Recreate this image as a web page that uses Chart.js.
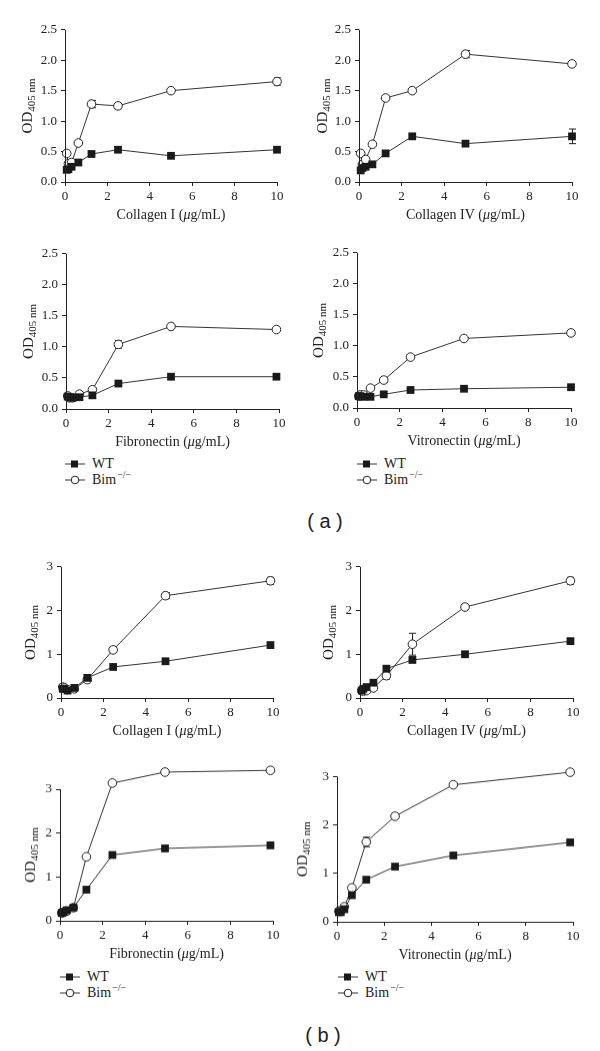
<!DOCTYPE html>
<html>
<head>
<meta charset="utf-8">
<title>Cell adhesion OD405</title>
<script src="https://cdn.jsdelivr.net/npm/chart.js@4.4.0/dist/chart.umd.min.js"></script>
<style>
  body { margin: 0; background: #fff; }
  #page { position: relative; width: 600px; height: 1051px; overflow: hidden; font-family: "Liberation Serif", serif; color: #222; }
  canvas { position: absolute; }
  .legend { position: absolute; font-family: "Liberation Serif", serif; font-size: 14px; }
  .legend .row { display: flex; align-items: center; height: 16px; }
  .legend svg { margin-right: 7px; }
  .legend sup { font-family: "Liberation Serif", serif; font-size: 10px; position: relative; top: -6px; vertical-align: baseline; line-height: 0; margin-left: 1px; }
  .tag { position: absolute; font-family: "Liberation Sans", sans-serif; font-size: 20px; white-space: pre; transform: translate(-50%, -50%); }
</style>
</head>
<body>
<div id="page">
  <div class="legend" style="left:65px; top:456px;"></div>
  <div class="legend" style="left:357px; top:456px;"></div>
  <div class="tag" style="left:325px; top:521px;">( a )</div>
  <div class="legend" style="left:60px; top:969px;"></div>
  <div class="legend" style="left:338px; top:969px;"></div>
  <div class="tag" style="left:323px; top:1035px;">( b )</div>
</div>
<script>
// coating concentrations (ug/mL)
const conc = [0.08, 0.16, 0.31, 0.63, 1.25, 2.5, 5, 10];
const concB = [0.08, 0.16, 0.31, 0.63, 1.24, 2.46, 4.93, 9.88];
const xTicks = [0, 2, 4, 6, 8, 10];
const yTicksA = [0, 0.5, 1, 1.5, 2, 2.5];
const yTicksB = [0, 1, 2, 3];
const seriesNames = ["WT", "Bim-/-"];

// (a)
const a1Wt  = [0.20, 0.21, 0.25, 0.32, 0.46, 0.53, 0.43, 0.53];
const a1Bim = [0.47, 0.30, 0.32, 0.64, 1.28, 1.25, 1.50, 1.65];
const a1BimErr = [0, 0, 0, 0, 0.06, 0, 0, 0.06];
const a2Wt  = [0.19, 0.23, 0.25, 0.29, 0.47, 0.75, 0.63, 0.75];
const a2WtErr = [0, 0, 0, 0, 0, 0, 0, 0.12];
const a2Bim = [0.47, 0.29, 0.37, 0.62, 1.38, 1.50, 2.10, 1.94];
const a2BimErr = [0, 0, 0, 0, 0, 0, 0.06, 0];
const a3Wt  = [0.20, 0.19, 0.18, 0.19, 0.22, 0.41, 0.52, 0.52];
const a3Bim = [0.21, 0.18, 0.18, 0.24, 0.31, 1.04, 1.33, 1.28];
const a3BimErr = [0, 0, 0, 0, 0, 0.06, 0, 0];
const a4Wt  = [0.19, 0.19, 0.18, 0.18, 0.22, 0.29, 0.31, 0.335];
const a4Bim = [0.19, 0.21, 0.21, 0.32, 0.45, 0.82, 1.12, 1.21];
const a4BimErr = [0, 0, 0, 0, 0.04, 0, 0, 0];

// (b)
const b1Wt  = [0.21, 0.21, 0.17, 0.23, 0.46, 0.71, 0.84, 1.21];
const b1Bim = [0.25, 0.23, 0.19, 0.21, 0.42, 1.10, 2.34, 2.68];
const b1BimErr = [0, 0, 0, 0, 0, 0, 0.07, 0.08];
const b2Wt  = [0.17, 0.21, 0.25, 0.35, 0.67, 0.87, 1.00, 1.30];
const b2Bim = [0.17, 0.16, 0.17, 0.23, 0.51, 1.23, 2.08, 2.68];
const b2BimErr = [0, 0, 0, 0, 0.08, 0.25, 0, 0.08];
const b3Wt  = [0.18, 0.20, 0.24, 0.30, 0.71, 1.50, 1.65, 1.72];
const b3Bim = [0.18, 0.19, 0.22, 0.30, 1.46, 3.14, 3.39, 3.43];
const b4Wt  = [0.20, 0.20, 0.26, 0.55, 0.87, 1.14, 1.37, 1.64];
const b4Bim = [0.22, 0.22, 0.31, 0.70, 1.65, 2.18, 2.83, 3.09];
const b4BimErr = [0, 0, 0, 0, 0.1, 0, 0, 0];

const none = [0, 0, 0, 0, 0, 0, 0, 0];

const panels = [
  { name: "Collagen I",  x: conc,  wt: a1Wt, bim: a1Bim, wtErr: none,    bimErr: a1BimErr, yTicks: yTicksA, dec: 1 },
  { name: "Collagen IV", x: conc,  wt: a2Wt, bim: a2Bim, wtErr: a2WtErr, bimErr: a2BimErr, yTicks: yTicksA, dec: 1 },
  { name: "Fibronectin", x: concB, wt: a3Wt, bim: a3Bim, wtErr: none,    bimErr: a3BimErr, yTicks: yTicksA, dec: 1 },
  { name: "Vitronectin", x: conc,  wt: a4Wt, bim: a4Bim, wtErr: none,    bimErr: a4BimErr, yTicks: yTicksA, dec: 1 },
  { name: "Collagen I",  x: concB, wt: b1Wt, bim: b1Bim, wtErr: none,    bimErr: b1BimErr, yTicks: yTicksB, dec: 0 },
  { name: "Collagen IV", x: concB, wt: b2Wt, bim: b2Bim, wtErr: none,    bimErr: b2BimErr, yTicks: yTicksB, dec: 0 },
  { name: "Fibronectin", x: concB, wt: b3Wt, bim: b3Bim, wtErr: none,    bimErr: none,     yTicks: yTicksB, dec: 0 },
  { name: "Vitronectin", x: concB, wt: b4Wt, bim: b4Bim, wtErr: none,    bimErr: b4BimErr, yTicks: yTicksB, dec: 0 }
];

// where each plot area sits on the page
const boxes = [
  { left: 65,  right: 277, zeroY: 182, topY: 28,  maxVal: 2.5, yOff: 33 },
  { left: 359, right: 572, zeroY: 182, topY: 28,  maxVal: 2.5, yOff: 32 },
  { left: 66,  right: 279, zeroY: 409, topY: 252, maxVal: 2.5, yOff: 33 },
  { left: 357, right: 571, zeroY: 408, topY: 251, maxVal: 2.5, yOff: 34 },
  { left: 61,  right: 273, zeroY: 698, topY: 565, maxVal: 3,   yOff: 26 },
  { left: 360, right: 573, zeroY: 698, topY: 565, maxVal: 3,   yOff: 27 },
  { left: 60,  right: 273, zeroY: 921, topY: 788, maxVal: 3.6, yOff: 25 },
  { left: 337, right: 573, zeroY: 922, topY: 775, maxVal: 3.2, yOff: 30 }
];

const ink = "#222";
const padL = 62, padT = 10, padR = 12, padB = 45;

Chart.defaults.font.family = '"Liberation Serif", serif';
Chart.defaults.font.size = 13;
Chart.defaults.color = ink;

// error bars, drawn under the markers
const errBars = {
  id: "errBars",
  beforeDatasetsDraw(chart, args, opts) {
    const ctx = chart.ctx;
    const ys = chart.scales.y;
    ctx.save();
    ctx.strokeStyle = ink;
    ctx.lineWidth = 1;
    chart.data.datasets.forEach((ds, i) => {
      const errs = opts.errs[i];
      const meta = chart.getDatasetMeta(i);
      ds.data.forEach((pt, j) => {
        if (!errs[j]) return;
        const x = Math.round(meta.data[j].x) + 0.5;
        const y1 = ys.getPixelForValue(pt.y + errs[j]);
        const y2 = ys.getPixelForValue(pt.y - errs[j]);
        ctx.beginPath();
        ctx.moveTo(x, y1); ctx.lineTo(x, y2);
        ctx.moveTo(x - 3.5, y1); ctx.lineTo(x + 3.5, y1);
        ctx.moveTo(x - 3.5, y2); ctx.lineTo(x + 3.5, y2);
        ctx.stroke();
      });
    });
    ctx.restore();
  }
};

// y axis line up to top tick, axis titles
const panelText = {
  id: "panelText",
  afterDraw(chart, args, opts) {
    const ctx = chart.ctx;
    const area = chart.chartArea;
    const ys = chart.scales.y;
    const y0 = ys.getPixelForValue(0);
    const yTop = ys.getPixelForValue(opts.topVal);
    ctx.save();
    ctx.strokeStyle = ink;
    ctx.fillStyle = ink;
    ctx.lineWidth = 1;
    ctx.beginPath();
    ctx.moveTo(Math.round(area.left) + 0.5, y0);
    ctx.lineTo(Math.round(area.left) + 0.5, yTop);
    ctx.stroke();

    // x title with italic mu
    const reg = '14px "Liberation Serif", serif';
    const ita = 'italic 14px "Liberation Serif", serif';
    const parts = [[opts.xTitle + " (", reg], ["\u03bc", ita], ["g/mL)", reg]];
    let total = 0;
    parts.forEach(p => { ctx.font = p[1]; total += ctx.measureText(p[0]).width; });
    let x = (area.left + area.right) / 2 - total / 2;
    ctx.textBaseline = "middle";
    ctx.textAlign = "left";
    parts.forEach(p => {
      ctx.font = p[1];
      ctx.fillText(p[0], x, y0 + 33);
      x += ctx.measureText(p[0]).width;
    });

    // OD with subscript, rotated
    ctx.translate(area.left - opts.yOff, (y0 + yTop) / 2);
    ctx.rotate(-Math.PI / 2);
    ctx.textBaseline = "alphabetic";
    ctx.font = '15px "Liberation Serif", serif';
    const wOD = ctx.measureText("OD").width;
    ctx.font = '11px "Liberation Serif", serif';
    const wSub = ctx.measureText("405 nm").width;
    const start = -(wOD + wSub) / 2;
    ctx.font = '15px "Liberation Serif", serif';
    ctx.fillText("OD", start, 0);
    ctx.font = '11px "Liberation Serif", serif';
    ctx.fillText("405 nm", start + wOD, 3);
    ctx.restore();
  }
};

const page = document.getElementById("page");

panels.forEach((p, k) => {
  const b = boxes[k];
  const topVal = p.yTicks[p.yTicks.length - 1];
  const areaTop = b.zeroY - (b.zeroY - b.topY) * b.maxVal / topVal;
  const canvas = document.createElement("canvas");
  const w = (b.right - b.left) + padL + padR;
  const h = (b.zeroY - areaTop) + padT + padB;
  canvas.width = w;
  canvas.height = h;
  canvas.style.left = (b.left - padL) + "px";
  canvas.style.top = (areaTop - padT) + "px";
  canvas.style.width = w + "px";
  canvas.style.height = h + "px";
  page.appendChild(canvas);

  new Chart(canvas.getContext("2d"), {
    type: "line",
    data: {
      datasets: [
        {
          label: seriesNames[0],
          data: p.x.map((v, i) => ({ x: v, y: p.wt[i] })),
          borderColor: "#333",
          borderWidth: 1,
          pointStyle: "rect",
          pointRadius: 5.5,
          pointBackgroundColor: "#1a1a1a",
          pointBorderColor: "#1a1a1a",
          pointBorderWidth: 0,
          clip: false
        },
        {
          label: seriesNames[1],
          data: p.x.map((v, i) => ({ x: v, y: p.bim[i] })),
          borderColor: "#333",
          borderWidth: 1,
          pointStyle: "circle",
          pointRadius: 4.3,
          pointBackgroundColor: "#fff",
          pointBorderColor: "#222",
          pointBorderWidth: 1,
          clip: false
        }
      ]
    },
    options: {
      responsive: false,
      animation: false,
      events: [],
      layout: { padding: { left: 0, top: padT, right: padR, bottom: 0 } },
      plugins: {
        legend: { display: false },
        tooltip: { enabled: false },
        errBars: { errs: [p.wtErr, p.bimErr] },
        panelText: { xTitle: p.name, topVal: topVal, yOff: b.yOff }
      },
      scales: {
        x: {
          type: "linear",
          min: 0,
          max: 10,
          afterBuildTicks: s => { s.ticks = xTicks.map(v => ({ value: v })); },
          afterFit: s => { s.height = padB; },
          ticks: { padding: 3, color: ink, callback: v => String(v) },
          grid: { drawOnChartArea: false, drawTicks: true, tickLength: 4, color: ink },
          border: { display: true, color: ink, width: 1 }
        },
        y: {
          type: "linear",
          min: 0,
          max: b.maxVal,
          afterBuildTicks: s => { s.ticks = p.yTicks.map(v => ({ value: v })); },
          afterFit: s => { s.width = padL; },
          ticks: { padding: 4, color: ink, callback: v => v.toFixed(p.dec) },
          grid: { drawOnChartArea: false, drawTicks: true, tickLength: 4, color: ink },
          border: { display: false }
        }
      }
    },
    plugins: [errBars, panelText]
  });
});

// legends under the bottom row of each figure
const legendHtml =
  '<div class="row"><svg width="20" height="10"><line x1="0" y1="5" x2="20" y2="5" stroke="#333"/><rect x="6" y="1.5" width="7" height="7" fill="#1a1a1a"/></svg><span>' + seriesNames[0] + '</span></div>' +
  '<div class="row"><svg width="20" height="10"><line x1="0" y1="5" x2="20" y2="5" stroke="#333"/><circle cx="10" cy="5" r="3.8" fill="#fff" stroke="#222"/></svg><span>Bim<sup>\u2212/\u2212</sup></span></div>';
document.querySelectorAll(".legend").forEach(el => { el.innerHTML = legendHtml; });
</script>
</body>
</html>
